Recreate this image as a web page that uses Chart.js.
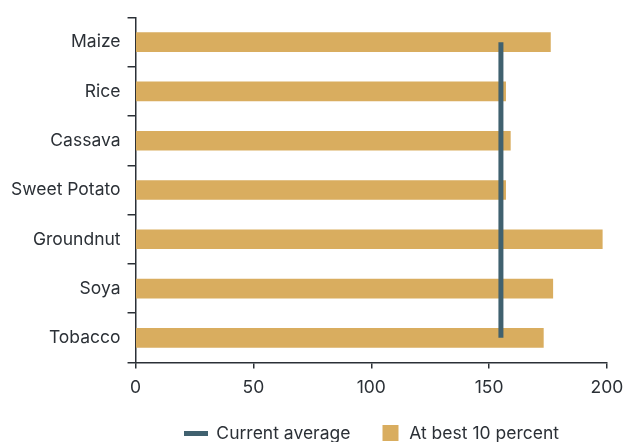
<!DOCTYPE html>
<html lang="en">
<head>
    <meta charset="UTF-8">
    <title>Yields</title>
    <script src="https://cdn.jsdelivr.net/npm/chart.js"></script>
    <style>
        body { margin: 0; background: #fff; }
    </style>
</head>
<body>
    <canvas id="myChart" width="625" height="442"></canvas>

    <script>
        // data
        const crops = ['Maize', 'Rice', 'Cassava', 'Sweet Potato', 'Groundnut', 'Soya', 'Tobacco'];
        const bestTenPercent = [176, 157, 159, 157, 198, 177, 173];
        const currentAverage = [155, 155, 155, 155, 155, 155, 155];
        const xTicks = [0, 50, 100, 150, 200];

        const barColor = '#D9AD5F';
        const lineColor = '#40616F';
        const inkColor = '#2b3036';

        // small images for the legend markers
        function makeMarker(w, h, x0, w0, h0, color) {
            const c = document.createElement('canvas');
            c.width = w;
            c.height = h;
            const g = c.getContext('2d');
            g.fillStyle = color;
            g.fillRect(x0, (h - h0) / 2, w0, h0);
            return c;
        }
        const lineMarker = makeMarker(24, 5, 0, 24, 5, lineColor);
        const boxMarker = makeMarker(24, 16, 6, 16, 16, barColor);

        Chart.defaults.font.family = 'Inter, "Noto Sans", sans-serif';
        Chart.defaults.font.size = 17.5;
        Chart.defaults.color = inkColor;

        const ctx = document.getElementById('myChart').getContext('2d');
        const chart = new Chart(ctx, {
            type: 'bar',
            data: {
                labels: crops,
                datasets: [{
                    type: 'line',
                    label: 'Current average',
                    data: currentAverage,
                    indexAxis: 'y',
                    borderColor: lineColor,
                    backgroundColor: lineColor,
                    borderWidth: 5,
                    pointRadius: 0,
                    pointHoverRadius: 0,
                    fill: false,
                    order: 0
                }, {
                    label: 'At best 10 percent',
                    data: bestTenPercent,
                    backgroundColor: barColor,
                    barThickness: 19,
                    order: 1
                }]
            },
            options: {
                indexAxis: 'y',
                responsive: false,
                animation: false,
                layout: {
                    padding: { top: 15, right: 0, bottom: -10, left: 4 }
                },
                scales: {
                    x: {
                        min: 0,
                        max: 200,
                        afterBuildTicks: (axis) => {
                            axis.ticks = xTicks.map(v => ({ value: v }));
                        },
                        afterFit: (axis) => {
                            axis.height -= 9; // pull the legend up a bit
                            axis.paddingRight = 18;
                            axis.paddingLeft = 0;
                        },
                        grid: {
                            drawOnChartArea: false,
                            tickLength: 6,
                            color: inkColor,
                            lineWidth: 1.5
                        },
                        border: { color: inkColor, width: 1.5 },
                        ticks: { padding: 9, color: inkColor }
                    },
                    y: {
                        grid: {
                            drawOnChartArea: false,
                            offset: true,
                            tickLength: 8,
                            color: inkColor,
                            lineWidth: 1.5
                        },
                        border: { color: inkColor, width: 1.5 },
                        ticks: { padding: 7, color: inkColor }
                    }
                },
                plugins: {
                    tooltip: { enabled: false },
                    legend: {
                        position: 'bottom',
                        fullSize: false,
                        labels: {
                            usePointStyle: true,
                            pointStyleWidth: 24,
                            padding: 26,
                            color: inkColor,
                            generateLabels: (chart) => {
                                const items = Chart.defaults.plugins.legend.labels.generateLabels(chart);
                                items[0].pointStyle = lineMarker;
                                items[1].pointStyle = boxMarker;
                                return items;
                            }
                        }
                    }
                }
            }
        });
    </script>
</body>
</html>
